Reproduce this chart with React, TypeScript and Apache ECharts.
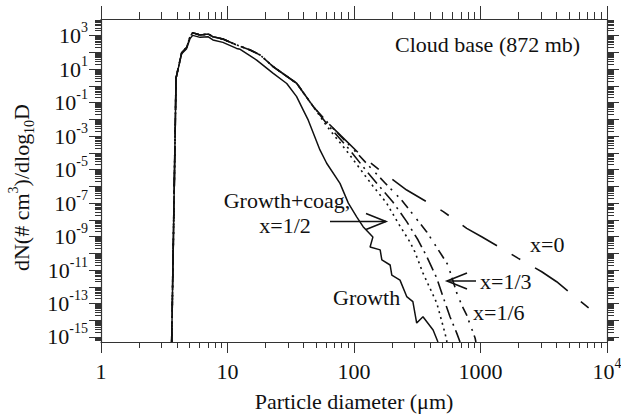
import { useEffect, useRef } from "react";
import * as echarts from "echarts";

const FONT = "Liberation Serif";
const INK = "#111";
const AXIS = "#333";

const xMin = 1;
const xMax = 10000;
const yMin = 5e-16;
const yMax = 1e4;

const xTickDecades = [0, 1, 2, 3, 4];
const xTickLabels = ["1", "10", "100", "1000", "10{sup|4}"];
const yTickDecades = [-15, -14, -13, -12, -11, -10, -9, -8, -7, -6, -5, -4, -3, -2, -1, 0, 1, 2, 3];
const yLabelDecades = [-15, -13, -11, -9, -7, -5, -3, -1, 1, 3];

// Growth only (solid)
const growthD = [3.62, 3.92, 4.34, 4.75, 5.06, 5.31, 6.07, 7.05, 7.67, 9.2, 11.8, 12.6, 17, 23, 29.4, 35.2, 39.7, 43.5, 53.8, 60.8, 77.5, 90.2, 105, 118, 141, 134, 161, 166, 193, 199, 231, 261, 292, 313, 351, 422, 461];
const growthN = [5e-16, 2.9, 85, 170, 680, 1050, 800, 860, 560, 400, 175, 155, 35, 5.7, 1.4, 0.23, 0.036, 0.009, 1.5e-4, 2.4e-5, 1.5e-6, 1e-7, 1.5e-8, 3.9e-9, 9.3e-10, 2.4e-10, 1.6e-10, 4e-11, 2e-11, 5e-12, 2.5e-12, 2.6e-13, 1.3e-13, 6.8e-15, 1.6e-14, 2.6e-15, 5e-16];

// Growth + coagulation: common part of all x values
const coagTopD = [3.62, 3.92, 4.34, 4.75, 5.06, 5.31, 6.07, 7.05, 7.67, 9.2, 11.8, 15.1, 18.1, 23, 35.2, 47.7];
const coagTopN = [5e-16, 3.0, 95, 200, 890, 1500, 1100, 1260, 870, 630, 280, 141, 71, 14, 1.45, 0.058];

// x = 1/2
const xHalfD = [61.7, 89.1, 122, 141, 181, 223, 277, 303, 351, 451, 524, 543];
const xHalfN = [3.5e-3, 1.1e-4, 4.5e-6, 1.05e-6, 1e-7, 6.5e-9, 4.7e-10, 1.2e-10, 6.6e-12, 1.07e-13, 1.7e-15, 5e-16];
// x = 1/3
const xThirdD = [63.1, 93.3, 126, 161, 203, 261, 321, 376, 451, 506, 574, 649, 689];
const xThirdN = [4e-3, 1.4e-4, 7.9e-6, 8.9e-7, 1.15e-7, 7.8e-9, 6.2e-10, 6.3e-11, 3.3e-12, 2.5e-13, 1.6e-14, 1.7e-15, 5e-16];
// x = 1/6
const xSixthD = [64.6, 97.7, 138, 176, 238, 376, 493, 553, 649, 710, 778, 906, 920];
const xSixthN = [4.5e-3, 1.8e-4, 1.1e-5, 1.6e-6, 1.5e-7, 1.9e-9, 7.9e-11, 2e-11, 4.3e-13, 8.1e-14, 2e-14, 8.7e-16, 5e-16];
// x = 0
const xZeroD = [57.5, 79.4, 112, 158, 261, 508, 778, 1021, 1991, 3048, 4000, 7800];
const xZeroN = [0.0112, 1e-3, 7.9e-5, 1e-5, 6e-7, 3.1e-8, 3.1e-9, 9.8e-10, 5e-11, 7.9e-12, 2e-12, 3.2e-14];

const lx0 = Math.log10(xMin);
const lx1 = Math.log10(xMax);
const ly0 = Math.log10(yMin);
const ly1 = Math.log10(yMax);

function minorLogs(lo: number, hi: number) {
  const out: number[] = [];
  for (let n = Math.floor(lo); n < hi; n++) {
    for (let k = 2; k <= 9; k++) {
      const v = n + Math.log10(k);
      if (v > lo + 1e-9 && v < hi - 1e-9) out.push(v);
    }
  }
  return out;
}

const pairs = (d: number[], n: number[]) => d.map((v, i) => [v, n[i]]);

const supRich = {
  sup: { fontSize: 14, lineHeight: 14, verticalAlign: "top", fontFamily: FONT, color: INK },
  sub: { fontSize: 14, lineHeight: 14, verticalAlign: "bottom", fontFamily: FONT, color: INK },
};

function deco(pos: string, min: number, max: number, ticks: number[], len: number, showLine: boolean, extra: any = {}) {
  return {
    type: "value",
    min,
    max,
    position: pos,
    axisLine: { show: showLine, onZero: false, lineStyle: { color: AXIS, width: 1.2 } },
    axisTick: { show: true, inside: false, length: len, customValues: ticks, lineStyle: { color: AXIS, width: 1 } },
    axisLabel: { show: false },
    splitLine: { show: false },
    ...extra,
  };
}

const lineCommon = {
  type: "line",
  xAxisIndex: 0,
  yAxisIndex: 0,
  symbol: "none",
  showSymbol: false,
  silent: true,
  smooth: false,
};

function txt(text: string, x: number, y: number, align = "left") {
  return {
    type: "text",
    z: 10,
    style: { text, x, y, fill: INK, fontSize: 22, fontFamily: FONT, align, verticalAlign: "middle" },
  };
}

function arrow(x0: number, x1: number, y: number) {
  const dir = x1 > x0 ? 1 : -1;
  return [
    { type: "polyline", z: 10, shape: { points: [[x0, y], [x1, y]] }, style: { stroke: INK, lineWidth: 1.5, fill: null } },
    {
      type: "polyline",
      z: 10,
      shape: { points: [[x1 - dir * 20, y - 8], [x1, y], [x1 - dir * 20, y + 8]] },
      style: { stroke: INK, lineWidth: 1.6, fill: null },
    },
  ];
}

export default function App() {
  const ref = useRef<HTMLDivElement>(null);
  useEffect(() => {
    const chart = echarts.init(ref.current!, null, { renderer: "svg" });
    const option: any = {
      animation: false,
      backgroundColor: "#fff",
      textStyle: { fontFamily: FONT },
      grid: { left: 101, right: 14, top: 19, bottom: 78, containLabel: false, outerBoundsMode: "none" },
      xAxis: [
        { type: "log", logBase: 10, min: xMin, max: xMax, show: false },
        deco("bottom", lx0, lx1, xTickDecades, 11, true, {
          name: "Particle diameter (μm)",
          nameLocation: "middle",
          nameGap: 46,
          nameTextStyle: { fontSize: 22, fontFamily: FONT, color: INK },
          axisLabel: {
            show: true,
            customValues: xTickDecades,
            margin: 14,
            fontSize: 22,
            lineHeight: 30,
            fontFamily: FONT,
            color: INK,
            formatter: (v: number) => xTickLabels[Math.round(v)],
            rich: supRich,
          },
        }),
        deco("bottom", lx0, lx1, minorLogs(lx0, lx1), 6, false),
        deco("top", lx0, lx1, xTickDecades, 13, true),
        deco("top", lx0, lx1, minorLogs(lx0, lx1), 7, false),
      ],
      yAxis: [
        { type: "log", logBase: 10, min: yMin, max: yMax, show: false },
        deco("left", ly0, ly1, yTickDecades, 12, true, {
          name: "dN(# cm{sup|3})/dlog{sub|10}D",
          nameLocation: "middle",
          nameGap: 57,
          nameTextStyle: { fontSize: 22, lineHeight: 30, fontFamily: FONT, color: INK, rich: supRich, padding: [0, 14, 0, 0] },
          axisLabel: {
            show: true,
            customValues: yLabelDecades,
            margin: 13,
            fontSize: 22,
            lineHeight: 30,
            fontFamily: FONT,
            color: INK,
            formatter: (v: number) => "10{sup|" + Math.round(v) + "}",
            rich: supRich,
          },
        }),
        deco("left", ly0, ly1, minorLogs(ly0, ly1), 6, false),
        deco("right", ly0, ly1, yTickDecades, 12, true),
        deco("right", ly0, ly1, minorLogs(ly0, ly1), 7, false),
      ],
      series: [
        { ...lineCommon, name: "Growth", data: pairs(growthD, growthN), lineStyle: { color: INK, width: 1.5, type: "solid" } },
        {
          ...lineCommon,
          name: "Growth+coag, x=1/2",
          data: pairs([...coagTopD, ...xHalfD], [...coagTopN, ...xHalfN]),
          lineStyle: { color: INK, width: 1.6, type: [2, 4] },
        },
        {
          ...lineCommon,
          name: "x=1/3",
          data: pairs([...coagTopD, ...xThirdD], [...coagTopN, ...xThirdN]),
          lineStyle: { color: INK, width: 1.6, type: [14, 5, 2, 5] },
        },
        {
          ...lineCommon,
          name: "x=1/6",
          data: pairs([...coagTopD, ...xSixthD], [...coagTopN, ...xSixthN]),
          lineStyle: { color: INK, width: 1.6, type: [10, 5, 2, 7, 2, 5] },
        },
        {
          ...lineCommon,
          name: "x=0",
          data: pairs([...coagTopD, ...xZeroD], [...coagTopN, ...xZeroN]),
          lineStyle: { color: INK, width: 1.6, type: [40, 17, 10, 17], dashOffset: 20 },
        },
      ],
      graphic: [
        txt("Cloud base (872 mb)", 395, 44),
        txt("Growth+coag,", 287, 200.5, "center"),
        txt("x=1/2", 285, 225.5, "center"),
        txt("Growth", 333, 297),
        txt("x=0", 530, 244),
        txt("x=1/3", 480, 281),
        txt("x=1/6", 473, 312),
        ...arrow(330, 386, 221.5),
        ...arrow(476, 447, 281),
      ],
    };
    chart.setOption(option);
    return () => chart.dispose();
  }, []);
  return (
    <div
      ref={ref}
      style={{ position: "fixed", left: 0, top: 0, width: 621, height: 420, background: "#fff" }}
    />
  );
}
